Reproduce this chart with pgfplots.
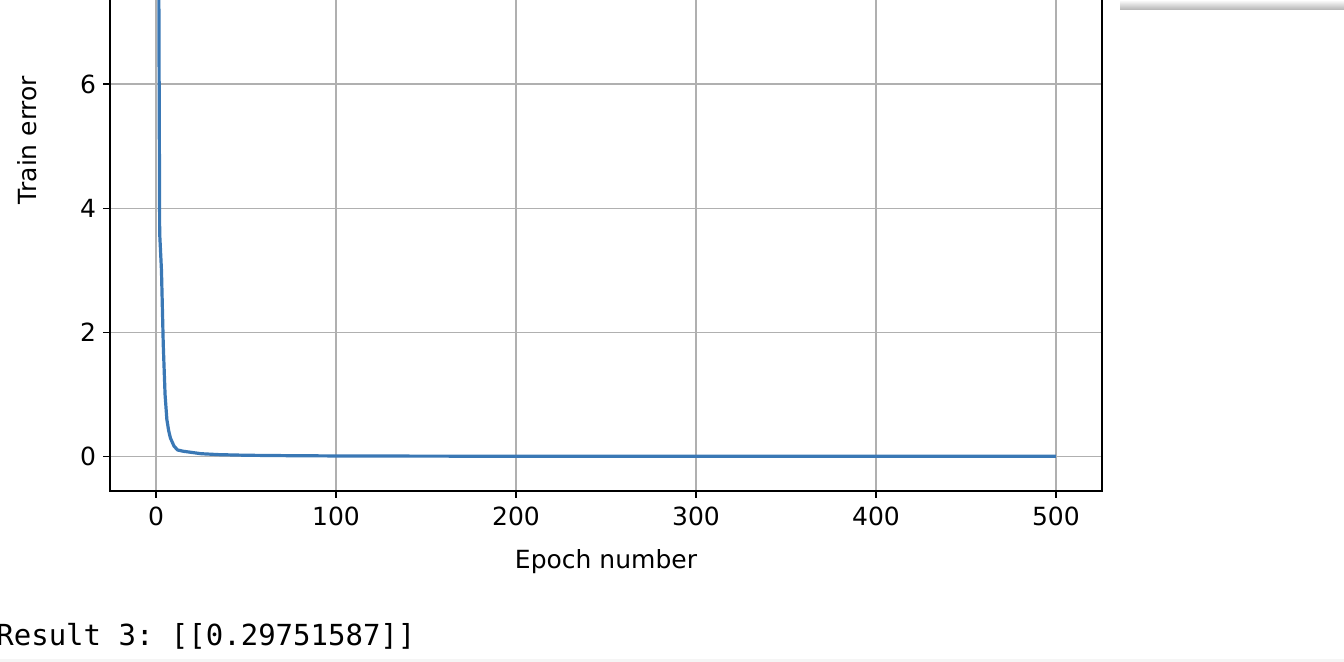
\documentclass[border=0pt]{standalone}
\usepackage{pgfplots}
\pgfplotsset{compat=1.18}
\usepackage{fontspec}
\setmainfont{DejaVu Sans}
\setmonofont{DejaVu Sans Mono}
\definecolor{c0}{HTML}{3A78B5}
\definecolor{gridc}{HTML}{B0B0B0}
\begin{document}
\begin{tikzpicture}
\useasboundingbox (0,0) rectangle (672pt,331pt);
\begin{scope}
\clip (0,0) rectangle (672pt,331pt);
\begin{axis}[scale only axis, width=496pt, height=265pt,
  at={(55pt,85.5pt)}, anchor=south west,
  xmin=-25.6, xmax=525.6, ymin=-0.55, ymax=7.98,
  xtick={0,100,...,500}, ytick={0,2,4,6},
  xtick pos=bottom, ytick pos=left,
  grid=major, grid style={gridc, line width=0.6pt},
  tick align=outside, major tick length=3.5pt,
  tick style={black, line width=0.6pt},
  axis line style={line width=0.6pt},
  tick label style={font=\fontsize{12.5}{14}\selectfont},
  /pgf/number format/assume math mode=true,
  xticklabel style={yshift=-1pt}]
\addplot[c0, line width=1.6pt] coordinates {
(1,12) (2,3.6) (3,3.0) (4,1.8) (5,1.0) (6,0.6) (7,0.42) (8,0.3) (10,0.17) (12,0.11) (15,0.09) (20,0.07) (25,0.05) (35,0.035) (50,0.025) (75,0.018) (100,0.014) (150,0.011) (200,0.01) (300,0.009) (400,0.008) (500,0.008)};
\end{axis}
\end{scope}
\node[rotate=90, font=\fontsize{12.5}{14}\selectfont] at (13.5pt,261pt) {Train error};
\node[font=\fontsize{12.5}{14}\selectfont] at (303pt,50pt) {Epoch number};
\node[anchor=west, font=\ttfamily\fontsize{14.5}{16}\selectfont, inner sep=0pt] at (-2pt,13pt) {Result 3: [[0.29751587]]};
\shade[top color=white, bottom color=gray!60] (560pt,326pt) rectangle (672pt,331pt);
\fill[gray!8] (0,0) rectangle (672pt,1.5pt);
\end{tikzpicture}
\end{document}
